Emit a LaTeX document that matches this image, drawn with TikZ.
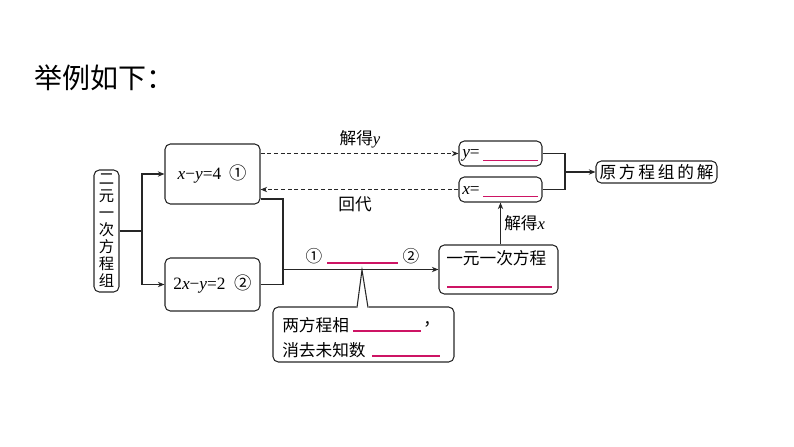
\documentclass[tikz,border=0pt]{standalone}
\usepackage{fontspec}
\setmainfont{Liberation Serif}
\newfontfamily\cjk{Noto Sans CJK SC}
\usetikzlibrary{arrows.meta}
\definecolor{blankred}{RGB}{205,20,100}
\begin{document}
\begin{tikzpicture}[x=0.75pt,y=-0.75pt,
  box/.style={draw=black!85,line width=0.8pt,rounded corners=4pt,inner sep=0pt},
  lbl/.style={inner sep=0pt,font=\fontsize{12.5pt}{15pt}\selectfont},
  conn/.style={line width=0.8pt,draw=black!85},
  arr/.style={conn,-{Stealth[length=5pt,width=4pt]}},
  dsh/.style={line width=0.7pt,draw=black!85,dash pattern=on 3pt off 2pt,-{Stealth[length=5pt,width=4pt]}},
  blank/.style={draw=blankred,line width=0.8pt}]
\useasboundingbox (0,0) rectangle (794,447);
% title
\node[anchor=west,inner sep=0pt,font=\cjk\fontsize{21pt}{24pt}\selectfont] (title) at (34,78) {举例如下：};
% nodes
\node[box,minimum width=25*0.75pt,minimum height=122*0.75pt,align=center,font=\cjk\fontsize{11.5pt}{12.75pt}\selectfont] (left) at (106.5,231) {二\\元\\一\\次\\方\\程\\组};
\node[box,minimum width=95*0.75pt,minimum height=60*0.75pt,font=\fontsize{13pt}{15pt}\selectfont] (box1) at (212.5,174) {\textit{x}−\textit{y}=4\ \ {\cjk ①}};
\node[box,minimum width=95*0.75pt,minimum height=53*0.75pt,font=\fontsize{13pt}{15pt}\selectfont] (box2) at (212.5,284.5) {2\textit{x}−\textit{y}=2\ \ {\cjk ②}};
\node[box,minimum width=83*0.75pt,minimum height=25*0.75pt] (ybox) at (500.5,153.5) {};
\node[box,minimum width=83*0.75pt,minimum height=25*0.75pt] (xbox) at (500.5,189.5) {};
\node[box,minimum width=121*0.75pt,minimum height=22*0.75pt,font=\cjk\fontsize{12.5pt}{15pt}\selectfont] (result) at (656.5,172) {原\,方\,程\,组\,的\,解};
\node[box,minimum width=119*0.75pt,minimum height=49*0.75pt] (eq1) at (498.5,269.5) {};
\node[box,minimum width=181*0.75pt,minimum height=55*0.75pt] (call) at (363.5,334.5) {};
% texts inside
\node[lbl,anchor=west,font=\fontsize{13pt}{15pt}\selectfont] (ytxt) at (462,155) {\textit{y}=};
\draw[blank] (483,160.5) -- (538,160.5);
\node[lbl,anchor=west,font=\fontsize{13pt}{15pt}\selectfont] (xtxt) at (462,191) {\textit{x}=};
\draw[blank] (483,196.5) -- (538,196.5);
\node[lbl,anchor=west,font=\cjk\fontsize{12.5pt}{15pt}\selectfont] (eqtxt) at (446,258) {一元一次方程};
\draw[blank] (447,287) -- (552,287);
% callout pointer
\fill[white] (356.5,305) -- (362,270) -- (368.5,305) -- (368.5,309) -- (356.5,309) -- cycle;
\draw[conn] (357,307.5) -- (362,270) -- (368,307.5);
\node[lbl,anchor=west,font=\cjk\fontsize{12.5pt}{15pt}\selectfont] (c1) at (282,325) {两方程相};
\draw[blank] (353,331) -- (421,331);
\node[lbl,anchor=west,font=\cjk\fontsize{12.5pt}{15pt}\selectfont] (c1b) at (423,324) {，};
\node[lbl,anchor=west,font=\cjk\fontsize{12.5pt}{15pt}\selectfont] (c2) at (282,350) {消去未知数};
\draw[blank] (372,356) -- (440,356);
% left bracket
\coordinate (lj) at (142,231);
\draw[conn] (left.east |- lj) -- (lj);
\draw[arr] (lj) |- (box1.west);
\draw[arr] (lj) |- (box2.west);
% merge to eq1
\coordinate (mj) at (283,269.5);
\coordinate (b1o) at (260,199);
\draw[conn] (box1.east |- b1o) -| (mj);
\draw[conn] (box2.east) -| (mj);
\draw[arr] (mj) -- (eq1.west);
\node[lbl,font=\cjk\fontsize{12.5pt}{15pt}\selectfont] (n1) at (314,256) {①};
\draw[blank] (327,263) -- (398,263);
\node[lbl,font=\cjk\fontsize{12.5pt}{15pt}\selectfont] (n2) at (411,256) {②};
% dashed
\draw[dsh] (box1.east |- ybox.west) -- (ybox.west);
\draw[dsh] (xbox.west) -- (box1.east |- xbox.west);
\node[lbl] (jy) at (360,139) {{\cjk 解得}\textit{y}};
\node[lbl,font=\cjk\fontsize{12.5pt}{15pt}\selectfont] (hd) at (355,204) {回代};
% right bracket
\coordinate (rj) at (565,172);
\draw[conn] (ybox.east) -| (rj);
\draw[conn] (xbox.east) -| (rj);
\draw[arr] (rj) -- (result.west);
% vertical
\draw[arr] (eq1.north -| xbox.south) -- (xbox.south);
\node[lbl,anchor=west] (jx) at (504,223) {{\cjk 解得}\textit{x}};
\end{tikzpicture}
\end{document}
